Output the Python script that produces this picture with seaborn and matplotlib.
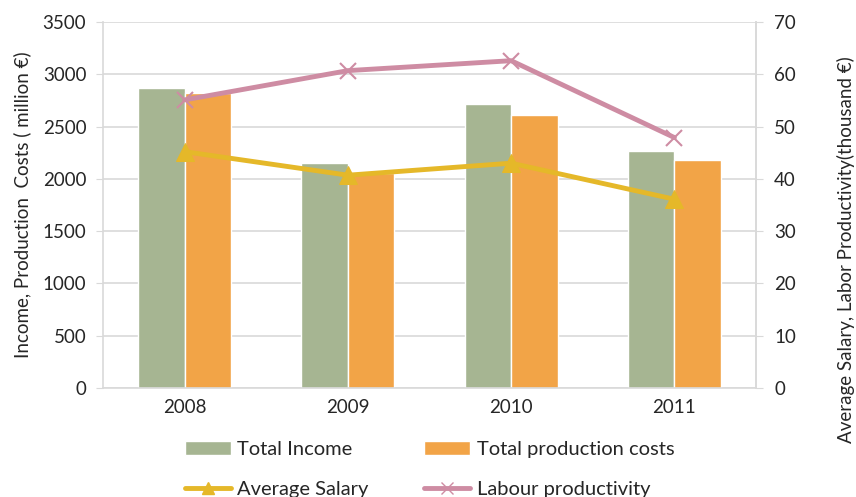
import numpy as np
import pandas as pd
import seaborn as sns
from matplotlib import pyplot as plt
from matplotlib.lines import Line2D
from matplotlib.patches import Patch

years = ["2008", "2009", "2010", "2011"]
total_income = [2870, 2152, 2713, 2266]
production_costs = [2820, 2055, 2608, 2180]
average_salary = [45.2, 40.7, 43.0, 36.1]
labour_productivity = [55.1, 60.7, 62.6, 47.9]

green = "#A6B592"
orange = "#F2A447"
yellow = "#E5B829"
pink = "#CE8CA3"
grid = "#D9D9D9"

sns.set_style("white")
plt.rcParams["font.family"] = ["Lato", "DejaVu Sans"]

bars = pd.DataFrame({
    "year": years * 2,
    "value": total_income + production_costs,
    "series": ["Total Income"] * 4 + ["Total production costs"] * 4,
})

fig = plt.figure(figsize=(8.56, 4.97), dpi=100)
ax = fig.add_axes([103 / 856, 1 - 388 / 497, (756 - 103) / 856, (388 - 22) / 497])

sns.barplot(bars, x="year", y="value", hue="series", palette=[green, orange],
            width=0.57, gap=0, saturation=1, ax=ax, legend=False)
ax.set_ylim(0, 3500)
ax.set_yticks(range(0, 3501, 500))
ax.set_xlim(-0.5, 3.5)
ax.yaxis.grid(True, color=grid, linewidth=1.2)
ax.set_axisbelow(True)
ax.set_xlabel("")
ax.set_ylabel("Income, Production  Costs ( million €)", fontsize=13.5, labelpad=8)
ax.spines["top"].set_visible(False)
for side in ["left", "right", "bottom"]:
    ax.spines[side].set_color(grid)
    ax.spines[side].set_linewidth(1.2)
ax.tick_params(axis="y", length=5, color=grid, labelsize=13.5, pad=7)
ax.tick_params(axis="x", length=0, labelsize=13.5, pad=8)

ax2 = ax.twinx()
x = np.arange(len(years))
sns.lineplot(x=x, y=average_salary, color=yellow, linewidth=3.5, marker="^",
             markersize=13, markeredgecolor=yellow, ax=ax2)
sns.lineplot(x=x, y=labour_productivity, color=pink, linewidth=3.5, marker="x",
             markersize=12, markeredgewidth=1.5, markeredgecolor=pink, ax=ax2)
ax2.set_ylim(0, 70)
ax2.set_yticks(range(0, 71, 10))
ax2.set_ylabel("Average Salary, Labor Productivity(thousand €)", fontsize=13.5)
ax2.yaxis.set_label_coords(1.124, 0.377)
ax2.tick_params(axis="y", length=5, color=grid, labelsize=13.5, pad=8)
for side in ["top", "left", "bottom"]:
    ax2.spines[side].set_visible(False)
ax2.spines["right"].set_color(grid)
ax2.spines["right"].set_linewidth(1.2)

handles = [
    Patch(facecolor=green, label="Total Income"),
    Line2D([], [], color=yellow, linewidth=3.5, marker="^", markersize=9, label="Average Salary"),
    Patch(facecolor=orange, label="Total production costs"),
    Line2D([], [], color=pink, linewidth=3.5, marker="x", markersize=8, label="Labour productivity"),
]
fig.legend(handles=handles, ncol=2, loc="upper left", bbox_to_anchor=(177 / 856, 1 - 433 / 497),
           frameon=False, fontsize=14.5, handlelength=2.3, handleheight=0.7,
           handletextpad=0.3, columnspacing=2.75, labelspacing=1.15, borderaxespad=0)

fig.savefig("out.png", dpi=100)
